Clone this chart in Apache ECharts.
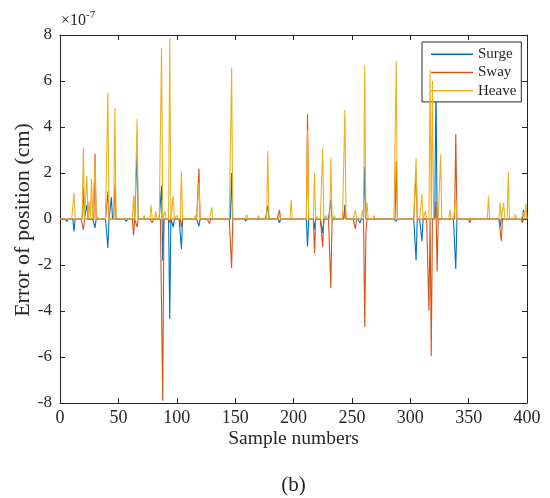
<!DOCTYPE html>
<html>
<head>
<meta charset="utf-8">
<script src="https://cdn.jsdelivr.net/npm/echarts@6/dist/echarts.min.js"></script>
<style>
  html, body { margin: 0; padding: 0; background: #fff; }
  #chart { width: 550px; height: 498px; }
</style>
</head>
<body>
<div id="chart"></div>
<script>
// Values are in units of 1e-7 cm, [sample, value]; every other sample sits at 0
const sampleCount = 400;
const surgeSpikes = [
  [6, -0.1], [12, -0.54], [20, 1.4], [23, 0.62], [30, -0.39], [41, -1.26], [44, 0.94],
  [57, -0.1], [66, 2.94], [87, 1.45], [88, -1.8], [94, -4.35], [97, -0.35], [104, -1.3],
  [119, -0.32], [147, 2.0], [159, -0.1], [178, 0.58], [188, -0.17], [212, -1.19],
  [218, -0.43], [225, -0.6], [232, 0.84], [244, 0.62], [257, -0.17], [261, 2.26],
  [288, -0.1], [305, -1.8], [310, -0.97], [322, 6.0], [339, -2.17], [377, -0.35], [397, 0.4]
];
const swaySpikes = [
  [20, -0.46], [30, 2.84], [41, 1.19], [47, 1.5], [63, -0.72], [66, -0.35], [79, -0.17],
  [88, -7.9], [94, -0.17], [104, -0.35], [119, 2.19], [128, -0.2], [147, -2.13], [188, 0.4],
  [212, 4.55], [218, -1.48], [225, -1.23], [232, -3.01], [244, 0.4], [253, -0.43],
  [261, -4.7], [262, -0.58], [288, 2.5], [305, 2.07], [316, -3.99], [318, -5.97],
  [322, 0.77], [323, -2.28], [339, 3.7], [351, -0.17], [378, -0.97], [396, -0.17]
];
const heaveSpikes = [
  [12, 1.13], [20, 3.09], [23, 1.88], [25, 0.77], [27, 1.74], [30, 2.5], [32, 0.1],
  [41, 5.5], [47, 4.83], [63, 1.01], [66, 4.35], [72, 0.15], [78, 0.62], [82, 0.33],
  [87, 7.43], [90, 0.33], [94, 7.87], [97, 1.0], [100, 0.15], [104, 2.06], [116, 0.15],
  [119, 1.56], [130, 0.5], [147, 6.59], [160, 0.19], [170, 0.16], [178, 2.97], [188, 0.2],
  [198, 0.84], [212, 3.88], [218, 2.0], [220, 0.1], [225, 3.07], [228, 0.15], [232, 2.67],
  [235, 0.15], [244, 4.75], [253, 0.4], [259, 0.4], [261, 6.67], [263, 0.7], [269, 0.15],
  [288, 6.88], [305, 2.65], [310, 1.09], [313, 0.33], [317, 6.5], [319, 6.0], [326, 2.8],
  [334, 0.4], [339, 0.9], [367, 0.99], [377, 0.7], [380, 0.7], [384, 2.04], [390, 0.2],
  [397, 0.3], [399, 0.67]
];
const seriesNames = ["Surge", "Sway", "Heave"];
const seriesColors = ["#0072BD", "#D95319", "#EDB120"];
const xTicks = [0, 400, 50];   // min, max, interval
const yTicks = [-8, 8, 2];

const font = "'Times New Roman', 'Liberation Serif', serif";
const ink = "#262626";

function buildSeries(spikes) {
  const data = [];
  for (let i = 0; i <= sampleCount; i++) data.push([i, 0]);
  spikes.forEach(function (s) { data[s[0]][1] = s[1]; });
  return data;
}

const chart = echarts.init(document.getElementById("chart"), null, { renderer: "canvas" });

const axisCommon = {
  axisLine: { show: true, onZero: false, lineStyle: { color: ink, width: 1 } },
  axisTick: { show: true, inside: true, length: 5, lineStyle: { color: ink, width: 1 } },
  splitLine: { show: false }
};

chart.setOption({
  animation: false,
  backgroundColor: "#fff",
  grid: { left: 60, right: 23, top: 35, bottom: 95, show: false },
  xAxis: [
    Object.assign({
      type: "value", min: xTicks[0], max: xTicks[1], interval: xTicks[2], position: "bottom",
      axisLabel: { show: true, color: ink, fontFamily: font, fontSize: 18, margin: 6,
        showMinLabel: true, showMaxLabel: true, hideOverlap: false }
    }, axisCommon),
    Object.assign({
      type: "value", min: xTicks[0], max: xTicks[1], interval: xTicks[2], position: "top",
      axisLabel: { show: false }
    }, axisCommon)
  ],
  yAxis: [
    Object.assign({
      type: "value", min: yTicks[0], max: yTicks[1], interval: yTicks[2], position: "left",
      axisLabel: { show: true, color: ink, fontFamily: font, fontSize: 17, margin: 8,
        showMinLabel: true, showMaxLabel: true, hideOverlap: false }
    }, axisCommon),
    Object.assign({
      type: "value", min: yTicks[0], max: yTicks[1], interval: yTicks[2], position: "right",
      axisLabel: { show: false }
    }, axisCommon)
  ],
  legend: {
    orient: "vertical",
    left: 422,
    top: 42,
    padding: [3, 5, 2, 9],
    itemGap: 0,
    itemWidth: 42,
    itemHeight: 1.5,
    icon: "rect",
    borderColor: ink,
    borderWidth: 1,
    backgroundColor: "#fff",
    borderRadius: 0,
    selectedMode: false,
    textStyle: { fontFamily: font, fontSize: 15, color: ink, lineHeight: 18.3 },
    data: seriesNames
  },
  series: [surgeSpikes, swaySpikes, heaveSpikes].map(function (spikes, k) {
    return {
      name: seriesNames[k],
      type: "line",
      xAxisIndex: 0,
      yAxisIndex: 0,
      showSymbol: false,
      symbol: "none",
      lineStyle: { width: 1.1, color: seriesColors[k] },
      itemStyle: { color: seriesColors[k] },
      data: buildSeries(spikes),
      z: 2 + k
    };
  }),
  graphic: [
    {
      type: "text", left: 61, top: 10,
      style: {
        text: "{a|×10}{b|-7}",
        rich: {
          a: { fontFamily: font, fontSize: 16, fill: ink, verticalAlign: "bottom" },
          b: { fontFamily: font, fontSize: 11, fill: ink, verticalAlign: "top", padding: [0, 0, 8, 0] }
        }
      }
    },
    {
      type: "text", x: 23, y: 220, rotation: Math.PI / 2,
      style: { text: "Error of position (cm)", fontFamily: font, fontSize: 22, fill: ink,
        textAlign: "center", textVerticalAlign: "middle" }
    },
    {
      type: "text", x: 293.5, y: 439,
      style: { text: "Sample numbers", fontFamily: font, fontSize: 19.5, fill: ink,
        textAlign: "center", textVerticalAlign: "middle" }
    },
    {
      type: "text", x: 293.5, y: 485,
      style: { text: "(b)", fontFamily: font, fontSize: 21, fill: ink,
        textAlign: "center", textVerticalAlign: "middle" }
    }
  ]
});
</script>
</body>
</html>
